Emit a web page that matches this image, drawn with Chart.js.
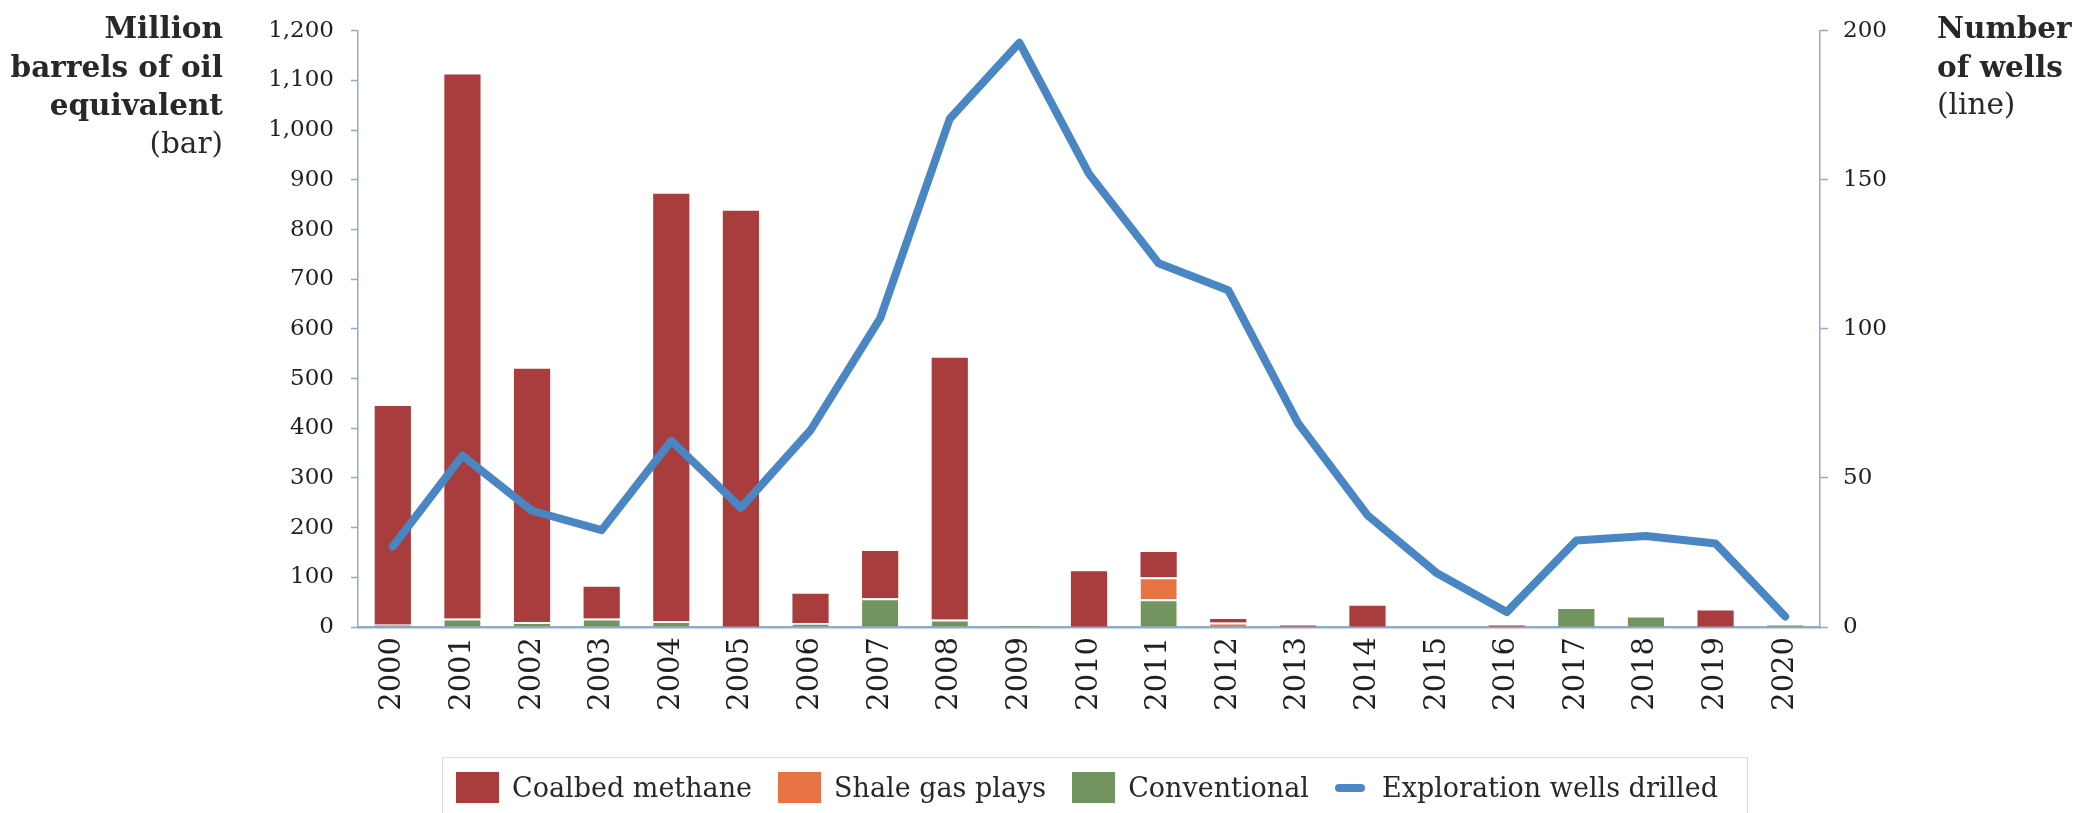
<!DOCTYPE html>
<html>
<head>
<meta charset="utf-8">
<script src="https://cdn.jsdelivr.net/npm/chart.js@4.4.1/dist/chart.umd.min.js"></script>
<style>
    html, body { margin: 0; padding: 0; background: #fff; }
    #wrap { position: relative; width: 2080px; height: 813px; overflow: hidden; font-family: "DejaVu Serif", serif; color: #2b2727; }
    #chart { position: absolute; left: 0; top: 0; }
    .axis-title { position: absolute; top: 9px; font-size: 29.5px; line-height: 37.7px; }
    .axis-title b { font-weight: bold; }
    #title-left { left: 0; width: 223px; text-align: right; }
    #title-right { left: 1937px; text-align: left; }
    #legend { position: absolute; left: 442px; top: 757px; width: 1306px; height: 90px; box-sizing: border-box;
              border: 1.5px solid #dadada; display: flex; align-items: flex-start; padding: 14px 0 0 13px; font-size: 27px; }
    .item { display: flex; align-items: center; margin-right: 26px; height: 31px; white-space: nowrap; }
    .swatch { width: 43px; height: 31px; margin-right: 13px; }
    .swatch.line { width: 30px; height: 8px; border-radius: 4px; margin-right: 17px; }
</style>
</head>
<body>
<div id="wrap">
    <canvas id="chart" width="2080" height="813"></canvas>
    <div id="title-left" class="axis-title"><b>Million</b><br><b>barrels of oil</b><br><b>equivalent</b><br>(bar)</div>
    <div id="title-right" class="axis-title"><b>Number</b><br><b>of wells</b><br>(line)</div>
    <div id="legend"></div>
</div>
<script>
const years = ['2000', '2001', '2002', '2003', '2004', '2005', '2006', '2007', '2008', '2009', '2010',
               '2011', '2012', '2013', '2014', '2015', '2016', '2017', '2018', '2019', '2020'];

// million barrels of oil equivalent, stacked
const conventional   = [5, 17, 10, 17, 12, 0, 8, 58, 15, 2, 0, 56, 0, 0, 0, 0, 0, 36, 19, 0, 3];
const shaleGasPlays  = [0, 0, 0, 0, 0, 0, 0, 0, 0, 0, 0, 44, 9, 0, 0, 0, 0, 0, 0, 0, 0];
const coalbedMethane = [440, 1095, 510, 64, 860, 838, 59, 95, 527, 0, 112, 51, 7, 3, 43, 0, 3, 0, 0, 33, 0];

// exploration wells drilled (right axis)
const wellsDrilled = [27, 57.5, 39, 32.5, 62.5, 40, 66, 103.5, 170.5, 196, 152, 122, 113, 68.5, 37.5, 18, 5, 29, 30.5, 28, 3.5];

const COLORS = {
    coalbed: '#a93c3c',
    shale: '#e77345',
    conventional: '#72955f',
    wells: '#4a86c4',
    axis: '#92abca',
    text: '#231f20'
};

// white gap on top of a segment only when something is stacked above it
const gapAbove = (above) => (ctx) => above(ctx.dataIndex) > 0 ? { top: 2, left: 0, right: 0, bottom: 0 } : 0;

const barBase = {
    type: 'bar',
    yAxisID: 'y',
    stack: 'oil',
    order: 1,
    borderColor: '#ffffff',
    borderSkipped: 'start',
    categoryPercentage: 1,
    barPercentage: 0.52
};

const datasets = [
    {
        ...barBase,
        label: 'Conventional',
        data: conventional,
        backgroundColor: COLORS.conventional,
        borderWidth: gapAbove(i => shaleGasPlays[i] + coalbedMethane[i])
    },
    {
        ...barBase,
        label: 'Shale gas plays',
        data: shaleGasPlays,
        backgroundColor: COLORS.shale,
        borderWidth: gapAbove(i => coalbedMethane[i])
    },
    {
        ...barBase,
        label: 'Coalbed methane',
        data: coalbedMethane,
        backgroundColor: COLORS.coalbed,
        borderWidth: 0
    },
    {
        type: 'line',
        label: 'Exploration wells drilled',
        data: wellsDrilled,
        yAxisID: 'y1',
        order: 0,
        borderColor: COLORS.wells,
        borderWidth: 8,
        borderCapStyle: 'round',
        borderJoinStyle: 'round',
        pointRadius: 0,
        tension: 0,
        fill: false
    }
];

const tickFont = { family: '"DejaVu Serif", serif', size: 23 };

const chart = new Chart(document.getElementById('chart').getContext('2d'), {
    data: { labels: years, datasets },
    options: {
        responsive: false,
        animation: false,
        layout: { padding: { top: 28, left: 0, right: 0, bottom: 0 } },
        plugins: {
            legend: { display: false },
            tooltip: { enabled: false }
        },
        scales: {
            x: {
                stacked: true,
                offset: true,
                grid: { display: false, drawTicks: false },
                border: { display: true, color: COLORS.axis, width: 2.5 },
                ticks: {
                    autoSkip: false,
                    minRotation: 90,
                    maxRotation: 90,
                    padding: 10,
                    color: COLORS.text,
                    font: { family: '"DejaVu Serif", serif', size: 29 }
                },
                afterFit: (scale) => { scale.height = 186; }
            },
            y: {
                position: 'left',
                stacked: true,
                min: 0,
                max: 1200,
                grid: { drawOnChartArea: false, drawTicks: true, tickLength: 7, tickColor: COLORS.axis, tickWidth: 1.5 },
                border: { display: true, color: COLORS.axis, width: 1.5 },
                ticks: { stepSize: 100, padding: 17, color: COLORS.text, font: tickFont },
                afterFit: (scale) => { scale.width = 358; }
            },
            y1: {
                position: 'right',
                min: 0,
                max: 200,
                grid: { drawOnChartArea: false, drawTicks: true, tickLength: 8, tickColor: COLORS.axis, tickWidth: 1.5 },
                border: { display: true, color: COLORS.axis, width: 1.5 },
                ticks: { stepSize: 50, padding: 15, color: COLORS.text, font: tickFont },
                afterFit: (scale) => { scale.width = 260; }
            }
        }
    }
});

// legend in the usual reading order: coalbed, shale, conventional, then the line
const legend = document.getElementById('legend');
[2, 1, 0, 3].forEach(idx => {
    const ds = chart.data.datasets[idx];
    const item = document.createElement('div');
    item.className = 'item';
    const sw = document.createElement('span');
    sw.className = ds.type === 'line' ? 'swatch line' : 'swatch';
    sw.style.background = ds.type === 'line' ? ds.borderColor : ds.backgroundColor;
    const txt = document.createElement('span');
    txt.textContent = ds.label;
    item.appendChild(sw);
    item.appendChild(txt);
    legend.appendChild(item);
});
</script>
</body>
</html>
